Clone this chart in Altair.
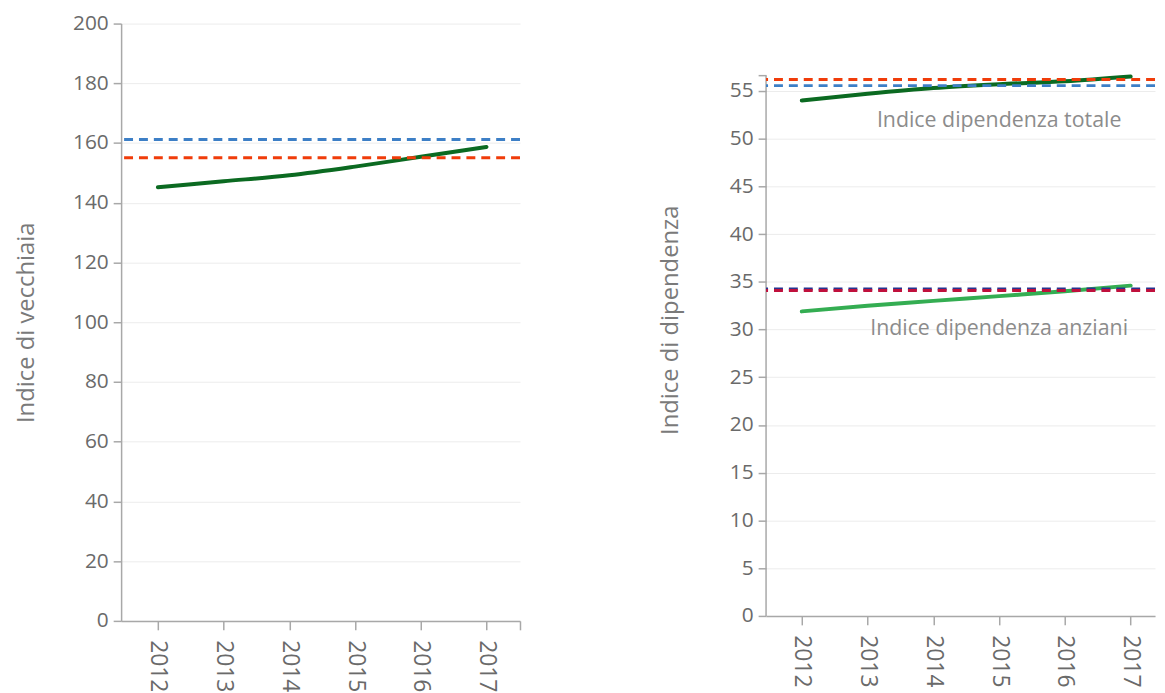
import altair as alt
import pandas as pd

years = [2012, 2013, 2014, 2015, 2016, 2017]
vecchiaia = [145.2, 147.2, 149.2, 152.1, 155.4, 158.7]
vecchiaia_refs = [161.2, 155.1]
vecchiaia_ref_names = ["blu", "rosso"]

dip_totale = [54.0, 54.7, 55.3, 55.7, 56.0, 56.5]
dip_anziani = [31.9, 32.5, 33.0, 33.5, 34.0, 34.6]
dip_refs = [55.55, 56.2, 34.25, 34.1]
dip_ref_names = ["blu_tot", "rosso_tot", "blu_anz", "rosso_anz"]

# extent of the drawn y-axis line of the right panel (plotly range)
dip_axis_lo = [0]
dip_axis_hi = [56.6]

annot_text = ["Indice dipendenza totale", "Indice dipendenza anziani"]
annot_x = [2015.0, 2015.0]
annot_y = [51.8, 30.0]

FONT = "Open Sans"
LABEL_C = "#6a6a6a"
TITLE_C = "#7a7a7a"
AXIS_C = "#a8a8a8"
GRID_C = "#ececec"

DASH = [9, 6]

x_axis_common = dict(
    title=None, grid=False, format="d", labelAngle=90,
    tickSize=9, labelPadding=10, labelFontSize=23,
)

# ---------- left chart ----------
df_v = pd.DataFrame({"anno": years, "valore": vecchiaia})
df_vr = pd.DataFrame({"valore": vecchiaia_refs, "serie": vecchiaia_ref_names})

x_left = alt.X(
    "anno:Q",
    scale=alt.Scale(domain=[2011.44, 2017.51], nice=False, zero=False),
    axis=alt.Axis(
        values=years + [2017.51],
        labelExpr="datum.value > 2017.2 ? '' : datum.label",
        **x_axis_common,
    ),
)
y_left = alt.Y(
    "valore:Q",
    scale=alt.Scale(domain=[0, 200], nice=False),
    axis=alt.Axis(
        title="Indice di vecchiaia", values=list(range(0, 201, 20)),
        tickSize=8, labelPadding=5, titlePadding=34,
    ),
)

line_left = alt.Chart(df_v).mark_line(
    color="#0b6a21", strokeWidth=4, interpolate="monotone", strokeCap="round"
).encode(x=x_left, y=y_left)

rules_left = alt.Chart(df_vr).mark_rule(strokeWidth=3, strokeDash=DASH).encode(
    y=alt.Y("valore:Q"),
    color=alt.Color(
        "serie:N",
        scale=alt.Scale(domain=vecchiaia_ref_names, range=["#3d7fc6", "#f03c0a"]),
        legend=None,
    ),
)

left = alt.layer(line_left, rules_left).properties(width=402, height=602)

# ---------- right chart ----------
df_d = pd.DataFrame({
    "anno": years * 2,
    "valore": dip_totale + dip_anziani,
    "serie": ["totale"] * 6 + ["anziani"] * 6,
})
df_dr = pd.DataFrame({"valore": dip_refs, "serie": dip_ref_names})
df_a = pd.DataFrame({"testo": annot_text, "anno": annot_x, "valore": annot_y})
df_ax = pd.DataFrame({"lo": dip_axis_lo, "hi": dip_axis_hi})

x_right = alt.X(
    "anno:Q",
    scale=alt.Scale(domain=[2011.457, 2017.37], nice=False, zero=False),
    axis=alt.Axis(values=years, **x_axis_common),
)
y_right = alt.Y(
    "valore:Q",
    scale=alt.Scale(domain=[0, 62.05], nice=False),
    axis=alt.Axis(
        title="Indice di dipendenza", values=list(range(0, 56, 5)) + [56.6],
        labelExpr="datum.value > 56 ? '' : datum.label",
        gridOpacity={"expr": "datum.value > 56 ? 0 : 1"},
        domain=False,
        tickSize=8, labelPadding=5, titlePadding=47,
    ),
)

axis_line = alt.Chart(df_ax).mark_rule(color=AXIS_C, strokeWidth=1.5).encode(
    x=alt.value(0), y="lo:Q", y2="hi:Q"
)

line_right = alt.Chart(df_d).mark_line(
    strokeWidth=4, interpolate="monotone", strokeCap="round"
).encode(
    x=x_right, y=y_right,
    color=alt.Color(
        "serie:N",
        scale=alt.Scale(domain=["totale", "anziani"], range=["#0b6a21", "#34ad52"]),
        legend=None,
    ),
    detail="serie:N",
)

rules_right = alt.Chart(df_dr).mark_rule(strokeWidth=3, strokeDash=DASH).encode(
    y=alt.Y("valore:Q"),
    color=alt.Color(
        "serie:N",
        scale=alt.Scale(
            domain=dip_ref_names,
            range=["#3d7fc6", "#f03c0a", "#27338f", "#c0103c"],
        ),
        legend=None,
    ),
)

text_right = alt.Chart(df_a).mark_text(
    font=FONT, fontSize=21.5, color="#8c8c8c", align="center", baseline="middle"
).encode(x="anno:Q", y="valore:Q", text="testo:N")

right = alt.layer(line_right, axis_line, rules_right, text_right).resolve_scale(
    color="independent"
).properties(width=392, height=597)

chart = alt.hconcat(left, right, spacing=137).properties(
    padding={"left": 6, "top": 2, "right": 0, "bottom": 0}
).configure_view(stroke=None).configure_axis(
    labelFont=FONT, labelFontSize=21, labelColor=LABEL_C,
    titleFont=FONT, titleFontSize=24, titleColor=TITLE_C, titleFontWeight="normal",
    domainColor=AXIS_C, tickColor=AXIS_C, gridColor=GRID_C,
    domainWidth=1.5, tickWidth=1.5,
)

chart.save("out.html", embed_options={"renderer": "svg", "actions": False})
